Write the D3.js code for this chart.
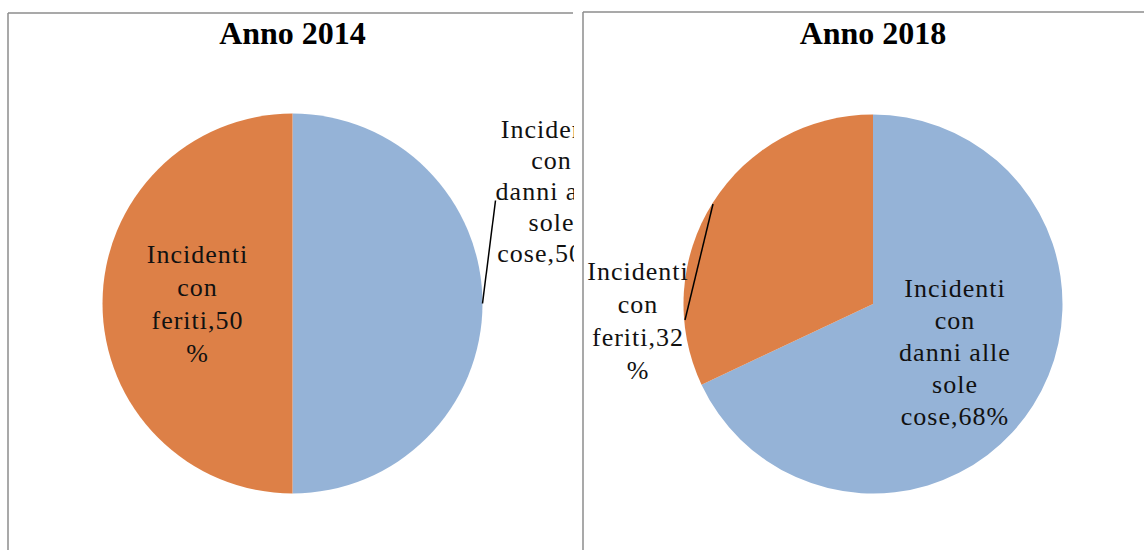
<!DOCTYPE html>
<html>
<head>
  <meta charset="utf-8">
  <script src="https://d3js.org/d3.v7.min.js"></script>
  <style>
    body { margin: 0; background: #fff; }
  </style>
</head>
<body>
<script type="text/javascript">
"use strict";

// data
var years = ["Anno 2014", "Anno 2018"];
var categories = ["Incidenti con danni alle sole cose", "Incidenti con feriti"];
var values2014 = [50, 50];
var values2018 = [68, 32];
var colors = ["#95B3D7", "#DD8047"];

var width = 1144, height = 550;
var svg = d3.select("body").append("svg")
    .attr("width", width)
    .attr("height", height);

// panel layout
var panels = [
  { x0: 8, x1: 574, top: 13, lineEnd: 573, cx: 292.5, cy: 303.5, r: 190, values: values2014,
    labels: [
      { dx: 259, y: 138, step: 31, lines: ["Incidenti", "con", "danni alle", "sole", "cose,50%"], leader: [[190, 0], [203, -103]] },
      { dx: -95, y: 263, step: 33, lines: ["Incidenti", "con", "feriti,50", "%"] }
    ] },
  { x0: 583, x1: 1144, top: 12, lineEnd: 1144, cx: 873, cy: 304, r: 189.5, values: values2018,
    labels: [
      { dx: 82, y: 297, step: 32, lines: ["Incidenti", "con", "danni alle", "sole", "cose,68%"] },
      { dx: -235, y: 280, step: 33, lines: ["Incidenti", "con", "feriti,32", "%"], leader: [[-188, 16], [-160, -100]] }
    ] }
];

var pie = d3.pie().sort(null).value(function(d) { return d; });

panels.forEach(function(p, i) {
  var clipId = "clip" + i;
  svg.append("clipPath").attr("id", clipId)
    .append("rect")
    .attr("x", p.x0).attr("y", 0)
    .attr("width", p.x1 - p.x0).attr("height", height);

  var g = svg.append("g").attr("clip-path", "url(#" + clipId + ")");

  // frame
  g.append("line")
    .attr("x1", p.x0).attr("x2", p.lineEnd)
    .attr("y1", p.top).attr("y2", p.top)
    .style("stroke", "#8c8c8c").style("stroke-width", 1.5);
  svg.append("line")
    .attr("x1", p.x0).attr("x2", p.x0)
    .attr("y1", p.top).attr("y2", height)
    .style("stroke", "#8c8c8c").style("stroke-width", 1.5);

  // title
  g.append("text")
    .attr("x", p.cx).attr("y", 44)
    .style("text-anchor", "middle")
    .style("font-family", "'Liberation Serif', serif")
    .style("font-weight", "bold")
    .style("font-size", "32px")
    .text(years[i]);

  var arc = d3.arc().innerRadius(0).outerRadius(p.r);
  var pg = g.append("g").attr("transform", "translate(" + p.cx + "," + p.cy + ")");
  pg.selectAll("path")
    .data(pie(p.values))
    .enter().append("path")
    .attr("d", arc)
    .style("fill", function(d, j) { return colors[j]; });

  p.labels.forEach(function(l) {
    if (l.leader) {
      g.append("line")
        .attr("x1", p.cx + l.leader[0][0]).attr("y1", p.cy + l.leader[0][1])
        .attr("x2", p.cx + l.leader[1][0]).attr("y2", p.cy + l.leader[1][1])
        .style("stroke", "#000").style("stroke-width", 1.5);
    }
    var t = g.append("text")
      .style("text-anchor", "middle")
      .style("font-family", "'Liberation Serif', serif")
      .style("font-size", "26px")
      .style("letter-spacing", "1px")
      .style("fill", "#111");
    l.lines.forEach(function(s, k) {
      t.append("tspan")
        .attr("x", p.cx + l.dx)
        .attr("y", l.y + k * l.step)
        .text(s);
    });
  });
});
</script>
</body>
</html>
